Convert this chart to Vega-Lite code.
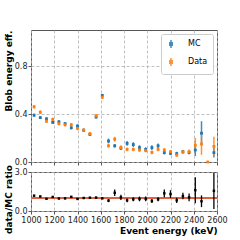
{
  "$schema": "https://vega.github.io/schema/vega-lite/v6.json",
  "padding": {"left": 3, "top": 29, "right": 5, "bottom": 0},
  "spacing": 10,
  "bounds": "flush",
  "config": {
    "font": "DejaVu Sans",
    "view": {"stroke": "#555", "strokeWidth": 1},
    "axis": {
      "labelFont": "DejaVu Sans", "labelFontSize": 8, "labelColor": "#222",
      "tickColor": "#555", "tickSize": 3, "domain": false,
      "gridColor": "#b0b0b0", "gridDash": [3, 2], "gridWidth": 0.8,
      "titleFont": "DejaVu Sans", "titleFontSize": 9, "titleFontWeight": "bold", "titleColor": "#000",
      "labelOverlap": false, "labelFlush": false, "labelBound": false
    }
  },
  "datasets": {
    "eff": [
      {"E": 1026.7, "s": "MC", "v": 0.39, "lo": 0.378, "hi": 0.402},
      {"E": 1080.0, "s": "MC", "v": 0.37, "lo": 0.358, "hi": 0.382},
      {"E": 1133.3, "s": "MC", "v": 0.36, "lo": 0.348, "hi": 0.372},
      {"E": 1186.7, "s": "MC", "v": 0.33, "lo": 0.318, "hi": 0.342},
      {"E": 1240.0, "s": "MC", "v": 0.335, "lo": 0.323, "hi": 0.347},
      {"E": 1293.3, "s": "MC", "v": 0.32, "lo": 0.308, "hi": 0.332},
      {"E": 1346.7, "s": "MC", "v": 0.285, "lo": 0.272, "hi": 0.298},
      {"E": 1400.0, "s": "MC", "v": 0.30, "lo": 0.287, "hi": 0.313},
      {"E": 1453.3, "s": "MC", "v": 0.265, "lo": 0.252, "hi": 0.278},
      {"E": 1506.7, "s": "MC", "v": 0.23, "lo": 0.217, "hi": 0.243},
      {"E": 1560.0, "s": "MC", "v": 0.375, "lo": 0.363, "hi": 0.387},
      {"E": 1613.3, "s": "MC", "v": 0.555, "lo": 0.543, "hi": 0.567},
      {"E": 1666.7, "s": "MC", "v": 0.175, "lo": 0.155, "hi": 0.195},
      {"E": 1720.0, "s": "MC", "v": 0.135, "lo": 0.12, "hi": 0.15},
      {"E": 1773.3, "s": "MC", "v": 0.115, "lo": 0.10, "hi": 0.13},
      {"E": 1826.7, "s": "MC", "v": 0.155, "lo": 0.135, "hi": 0.175},
      {"E": 1880.0, "s": "MC", "v": 0.145, "lo": 0.125, "hi": 0.165},
      {"E": 1933.3, "s": "MC", "v": 0.12, "lo": 0.10, "hi": 0.14},
      {"E": 1986.7, "s": "MC", "v": 0.105, "lo": 0.087, "hi": 0.123},
      {"E": 2040.0, "s": "MC", "v": 0.12, "lo": 0.10, "hi": 0.14},
      {"E": 2093.3, "s": "MC", "v": 0.135, "lo": 0.115, "hi": 0.155},
      {"E": 2146.7, "s": "MC", "v": 0.078, "lo": 0.063, "hi": 0.093},
      {"E": 2200.0, "s": "MC", "v": 0.072, "lo": 0.057, "hi": 0.087},
      {"E": 2253.3, "s": "MC", "v": 0.07, "lo": 0.055, "hi": 0.085},
      {"E": 2306.7, "s": "MC", "v": 0.085, "lo": 0.07, "hi": 0.10},
      {"E": 2360.0, "s": "MC", "v": 0.08, "lo": 0.065, "hi": 0.095},
      {"E": 2413.3, "s": "MC", "v": 0.10, "lo": 0.05, "hi": 0.15},
      {"E": 2466.7, "s": "MC", "v": 0.24, "lo": 0.14, "hi": 0.34},
      {"E": 2573.3, "s": "MC", "v": 0.078, "lo": 0.038, "hi": 0.118},
      {"E": 1026.7, "s": "Data", "v": 0.46, "lo": 0.445, "hi": 0.475},
      {"E": 1080.0, "s": "Data", "v": 0.415, "lo": 0.40, "hi": 0.43},
      {"E": 1133.3, "s": "Data", "v": 0.34, "lo": 0.325, "hi": 0.355},
      {"E": 1186.7, "s": "Data", "v": 0.355, "lo": 0.34, "hi": 0.37},
      {"E": 1240.0, "s": "Data", "v": 0.32, "lo": 0.305, "hi": 0.335},
      {"E": 1293.3, "s": "Data", "v": 0.31, "lo": 0.295, "hi": 0.325},
      {"E": 1346.7, "s": "Data", "v": 0.31, "lo": 0.295, "hi": 0.325},
      {"E": 1400.0, "s": "Data", "v": 0.28, "lo": 0.265, "hi": 0.295},
      {"E": 1453.3, "s": "Data", "v": 0.265, "lo": 0.25, "hi": 0.28},
      {"E": 1506.7, "s": "Data", "v": 0.235, "lo": 0.22, "hi": 0.25},
      {"E": 1560.0, "s": "Data", "v": 0.385, "lo": 0.37, "hi": 0.40},
      {"E": 1613.3, "s": "Data", "v": 0.54, "lo": 0.525, "hi": 0.555},
      {"E": 1666.7, "s": "Data", "v": 0.135, "lo": 0.12, "hi": 0.15},
      {"E": 1720.0, "s": "Data", "v": 0.19, "lo": 0.17, "hi": 0.21},
      {"E": 1773.3, "s": "Data", "v": 0.12, "lo": 0.10, "hi": 0.14},
      {"E": 1826.7, "s": "Data", "v": 0.105, "lo": 0.09, "hi": 0.12},
      {"E": 1880.0, "s": "Data", "v": 0.105, "lo": 0.09, "hi": 0.12},
      {"E": 1933.3, "s": "Data", "v": 0.10, "lo": 0.085, "hi": 0.115},
      {"E": 1986.7, "s": "Data", "v": 0.095, "lo": 0.08, "hi": 0.11},
      {"E": 2040.0, "s": "Data", "v": 0.08, "lo": 0.065, "hi": 0.095},
      {"E": 2093.3, "s": "Data", "v": 0.105, "lo": 0.09, "hi": 0.12},
      {"E": 2146.7, "s": "Data", "v": 0.10, "lo": 0.085, "hi": 0.115},
      {"E": 2200.0, "s": "Data", "v": 0.085, "lo": 0.07, "hi": 0.10},
      {"E": 2253.3, "s": "Data", "v": 0.058, "lo": 0.043, "hi": 0.073},
      {"E": 2306.7, "s": "Data", "v": 0.085, "lo": 0.07, "hi": 0.10},
      {"E": 2360.0, "s": "Data", "v": 0.085, "lo": 0.065, "hi": 0.105},
      {"E": 2413.3, "s": "Data", "v": 0.14, "lo": 0.08, "hi": 0.20},
      {"E": 2466.7, "s": "Data", "v": 0.15, "lo": 0.06, "hi": 0.24},
      {"E": 2520.0, "s": "Data", "v": 0.0, "lo": 0.0, "hi": 0.004},
      {"E": 2573.3, "s": "Data", "v": 0.13, "lo": 0.05, "hi": 0.21}
    ],
    "ratio": [
      {"E": 1026.7, "r": 1.18, "lo": 1.12, "hi": 1.24},
      {"E": 1080.0, "r": 1.12, "lo": 1.06, "hi": 1.18},
      {"E": 1133.3, "r": 0.94, "lo": 0.88, "hi": 1.00},
      {"E": 1186.7, "r": 1.08, "lo": 1.02, "hi": 1.14},
      {"E": 1240.0, "r": 0.96, "lo": 0.90, "hi": 1.02},
      {"E": 1293.3, "r": 0.97, "lo": 0.91, "hi": 1.03},
      {"E": 1346.7, "r": 1.09, "lo": 1.02, "hi": 1.16},
      {"E": 1400.0, "r": 0.93, "lo": 0.86, "hi": 1.00},
      {"E": 1453.3, "r": 1.0, "lo": 0.93, "hi": 1.07},
      {"E": 1506.7, "r": 1.02, "lo": 0.94, "hi": 1.10},
      {"E": 1560.0, "r": 1.03, "lo": 0.97, "hi": 1.09},
      {"E": 1613.3, "r": 0.97, "lo": 0.93, "hi": 1.01},
      {"E": 1666.7, "r": 0.8, "lo": 0.68, "hi": 0.92},
      {"E": 1720.0, "r": 1.4, "lo": 1.15, "hi": 1.65},
      {"E": 1773.3, "r": 1.05, "lo": 0.85, "hi": 1.25},
      {"E": 1826.7, "r": 0.82, "lo": 0.67, "hi": 0.97},
      {"E": 1880.0, "r": 0.9, "lo": 0.75, "hi": 1.05},
      {"E": 1933.3, "r": 0.93, "lo": 0.75, "hi": 1.11},
      {"E": 1986.7, "r": 0.93, "lo": 0.75, "hi": 1.11},
      {"E": 2040.0, "r": 0.77, "lo": 0.62, "hi": 0.92},
      {"E": 2093.3, "r": 0.9, "lo": 0.75, "hi": 1.05},
      {"E": 2146.7, "r": 1.36, "lo": 1.06, "hi": 1.66},
      {"E": 2200.0, "r": 1.3, "lo": 1.0, "hi": 1.6},
      {"E": 2253.3, "r": 0.82, "lo": 0.62, "hi": 1.02},
      {"E": 2306.7, "r": 1.15, "lo": 0.9, "hi": 1.4},
      {"E": 2360.0, "r": 1.05, "lo": 0.75, "hi": 1.35},
      {"E": 2413.3, "r": 1.6, "lo": 0.6, "hi": 2.6},
      {"E": 2466.7, "r": 0.75, "lo": 0.3, "hi": 1.2},
      {"E": 2573.3, "r": 1.55, "lo": 0.15, "hi": 2.95}
    ]
  },
  "vconcat": [
    {
      "width": 186, "height": 132,
      "data": {"name": "eff"},
      "encoding": {
        "x": {"field": "E", "type": "quantitative",
              "scale": {"domain": [1000, 2600], "nice": false},
              "axis": {"values": [1000, 1200, 1400, 1600, 1800, 2000, 2200, 2400, 2600], "labels": false, "title": null, "grid": true}},
        "color": {"field": "s", "type": "nominal",
                  "scale": {"domain": ["MC", "Data"], "range": ["#1f77b4", "#ff7f0e"]},
                  "legend": {"title": null, "orient": "top-right", "offset": 4,
                             "symbolType": "M0,-1V1M-0.3,-0.3H0.3V0.3H-0.3Z", "symbolSize": 64,
                             "symbolStrokeWidth": 1.5, "labelFont": "DejaVu Sans", "labelFontSize": 8, "labelColor": "#000",
                             "labelOffset": 12, "fillColor": "white", "strokeColor": "#ccc", "cornerRadius": 2,
                             "padding": 5, "rowPadding": 4,
                             "encode": {"symbols": {"update": {"fill": {"scale": "color", "field": "value"}, "stroke": {"scale": "color", "field": "value"}, "strokeWidth": {"value": 1.5}}}}}}
      },
      "layer": [
        {"mark": {"type": "rule", "strokeWidth": 1.5, "opacity": 0.85},
         "encoding": {"y": {"field": "lo", "type": "quantitative"}, "y2": {"field": "hi"}}},
        {"mark": {"type": "point", "shape": "square", "filled": true, "size": 8, "opacity": 1},
         "encoding": {"y": {"field": "v", "type": "quantitative",
                            "scale": {"domain": [0, 1.1], "nice": false},
                            "axis": {"values": [0, 0.2, 0.4, 0.6, 0.8, 1.0], "format": ".1f", "grid": true,
                                     "title": "Blob energy eff.", "titleAnchor": "end", "titleX": -20, "titleBaseline": "alphabetic", "labelPadding": 1}}}}
      ]
    },
    {
      "width": 186, "height": 39,
      "data": {"name": "ratio"},
      "encoding": {
        "x": {"field": "E", "type": "quantitative",
              "scale": {"domain": [1000, 2600], "nice": false},
              "axis": {"values": [1000, 1200, 1400, 1600, 1800, 2000, 2200, 2400, 2600], "format": "d", "grid": true,
                       "title": "Event energy (keV)", "titleAnchor": "end", "titlePadding": 2, "labelPadding": 2}}
      },
      "layer": [
        {"mark": {"type": "rule", "color": "#e06040", "strokeWidth": 1.5, "opacity": 0.75},
         "encoding": {"y": {"datum": 1}, "x": null}},
        {"mark": {"type": "rule", "color": "#000", "strokeWidth": 1.3},
         "encoding": {"y": {"field": "lo", "type": "quantitative"}, "y2": {"field": "hi"}}},
        {"mark": {"type": "point", "shape": "square", "filled": true, "size": 6, "color": "#000", "opacity": 1},
         "encoding": {"y": {"field": "r", "type": "quantitative",
                            "scale": {"domain": [0, 3], "nice": false},
                            "axis": {"values": [0, 1, 2, 3], "format": ".1f", "grid": true,
                                     "title": "data/MC ratio", "titleX": -20, "titleBaseline": "alphabetic", "titleY": 27, "titleAlign": "center", "labelPadding": 1}}}}
      ]
    }
  ]
}
